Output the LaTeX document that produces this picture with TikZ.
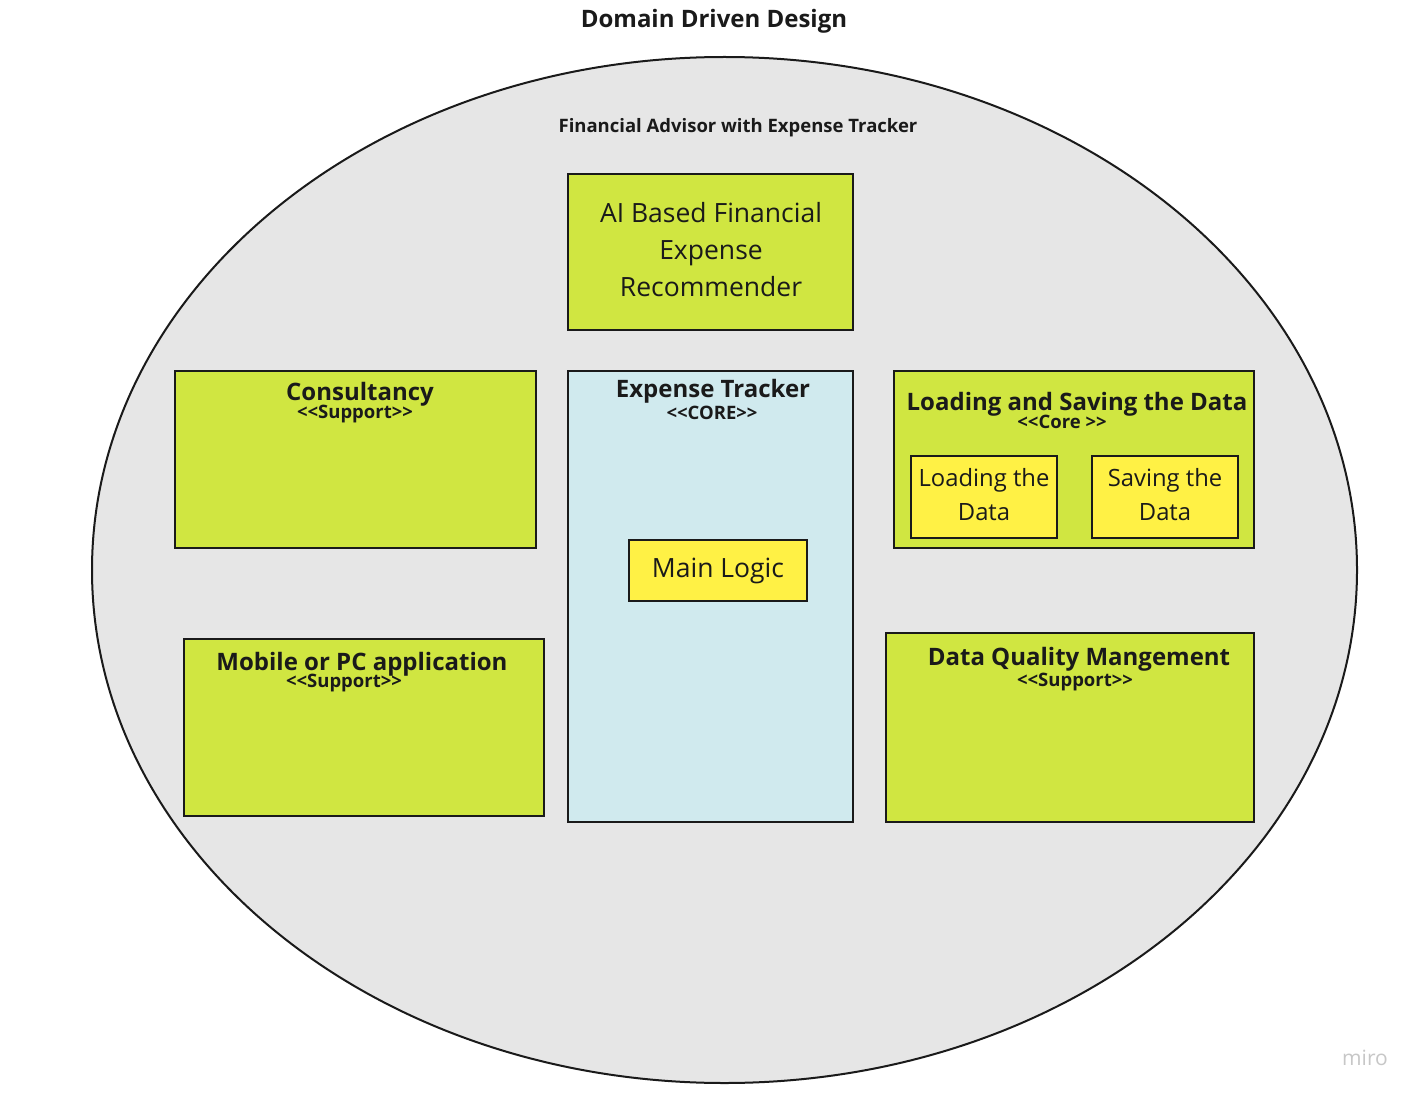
\documentclass[tikz,border=0pt]{standalone}
\usepackage{fontspec}
\setmainfont{Open Sans}
\usetikzlibrary{positioning,shapes}
\definecolor{lime}{HTML}{D0E641}
\definecolor{sky}{HTML}{D0EAEE}
\definecolor{lemon}{HTML}{FFF145}
\definecolor{space}{HTML}{E6E6E6}
\definecolor{edge}{HTML}{1A1A1A}
\definecolor{ink}{HTML}{1A1A1A}
\tikzstyle{subdomain}=[rectangle,draw=edge,line width=2.2pt,fill=lime,inner sep=0pt]
\tikzstyle{coredomain}=[subdomain,fill=sky]
\tikzstyle{part}=[subdomain,fill=lemon]
\tikzstyle{heading}=[text=ink,inner sep=0pt,text height=17pt,text depth=0pt,font=\fontsize{24}{28}\selectfont\bfseries]
\tikzstyle{stereo}=[heading,text height=13pt,font=\fontsize{18.5}{22}\selectfont\bfseries]
\tikzstyle{plain}=[text=ink,inner sep=0pt,align=center]

\begin{document}
\begin{tikzpicture}[x=1pt,y=-1pt]
    \fill[white] (0,0) rectangle (1421,1099);
    \useasboundingbox (0,0) rectangle (1421,1099);
    % the whole domain
    \node[heading] (title) at (714,19) {Domain Driven Design};
    \node[ellipse,draw=edge,line width=2pt,fill=space,minimum width=1265pt,minimum height=1026pt] (space) at (724.5,570) {};
    \node[stereo] (sub) at (738,126) {Financial Advisor with Expense Tracker};

    % subdomains
    \node[subdomain,minimum width=285pt,minimum height=156pt] (ai) at (710.5,252) {};
    \node[subdomain,minimum width=361pt,minimum height=177pt] (consult) at (355.5,459.5) {};
    \node[coredomain,minimum width=285pt,minimum height=451pt] (tracker) at (710.5,596.5) {};
    \node[subdomain,minimum width=360pt,minimum height=177pt] (data) at (1074,459.5) {};
    \node[subdomain,minimum width=360pt,minimum height=177pt] (app) at (364,727.5) {};
    \node[subdomain,minimum width=368pt,minimum height=189pt] (quality) at (1070,727.5) {};

    % inner parts
    \node[part,minimum width=178pt,minimum height=61pt] (logic) at (718,570.5) {};
    \node[part,minimum width=146pt,minimum height=82pt] (load) at (984,497) {};
    \node[part,minimum width=146pt,minimum height=82pt] (save) at (1165,497) {};

    % labels
    \node[plain,font=\fontsize{26.5}{37}\selectfont] at (711,250) {AI Based Financial\\Expense\\Recommender};
    \foreach \pos/\name/\kind in {{(360,392)/Consultancy/heading}, {(355,412)/{<{}<Support>{}>}/stereo},
        {(713,389)/Expense Tracker/heading}, {(712,413)/{<{}<CORE>{}>}/stereo},
        {(1077,402)/Loading and Saving the Data/heading}, {(1062,422)/{<{}<Core >{}>}/stereo},
        {(362,662)/Mobile or PC application/heading}, {(344,681)/{<{}<Support>{}>}/stereo},
        {(1079,657)/Data Quality Mangement/heading}, {(1075,680)/{<{}<Support>{}>}/stereo}}
        \node[\kind] at \pos {\name};
    \node[plain,font=\fontsize{26.5}{30}\selectfont] at (718,571) {Main Logic};
    \node[plain,font=\fontsize{23.8}{34}\selectfont] at (984,495) {Loading the\\Data};
    \node[plain,font=\fontsize{23.8}{34}\selectfont] at (1165,495) {Saving the\\Data};

    \node[text=black!22,inner sep=0pt,font=\fontsize{21}{24}\selectfont] (miro) at (1365,1058) {miro};
\end{tikzpicture}
\end{document}
